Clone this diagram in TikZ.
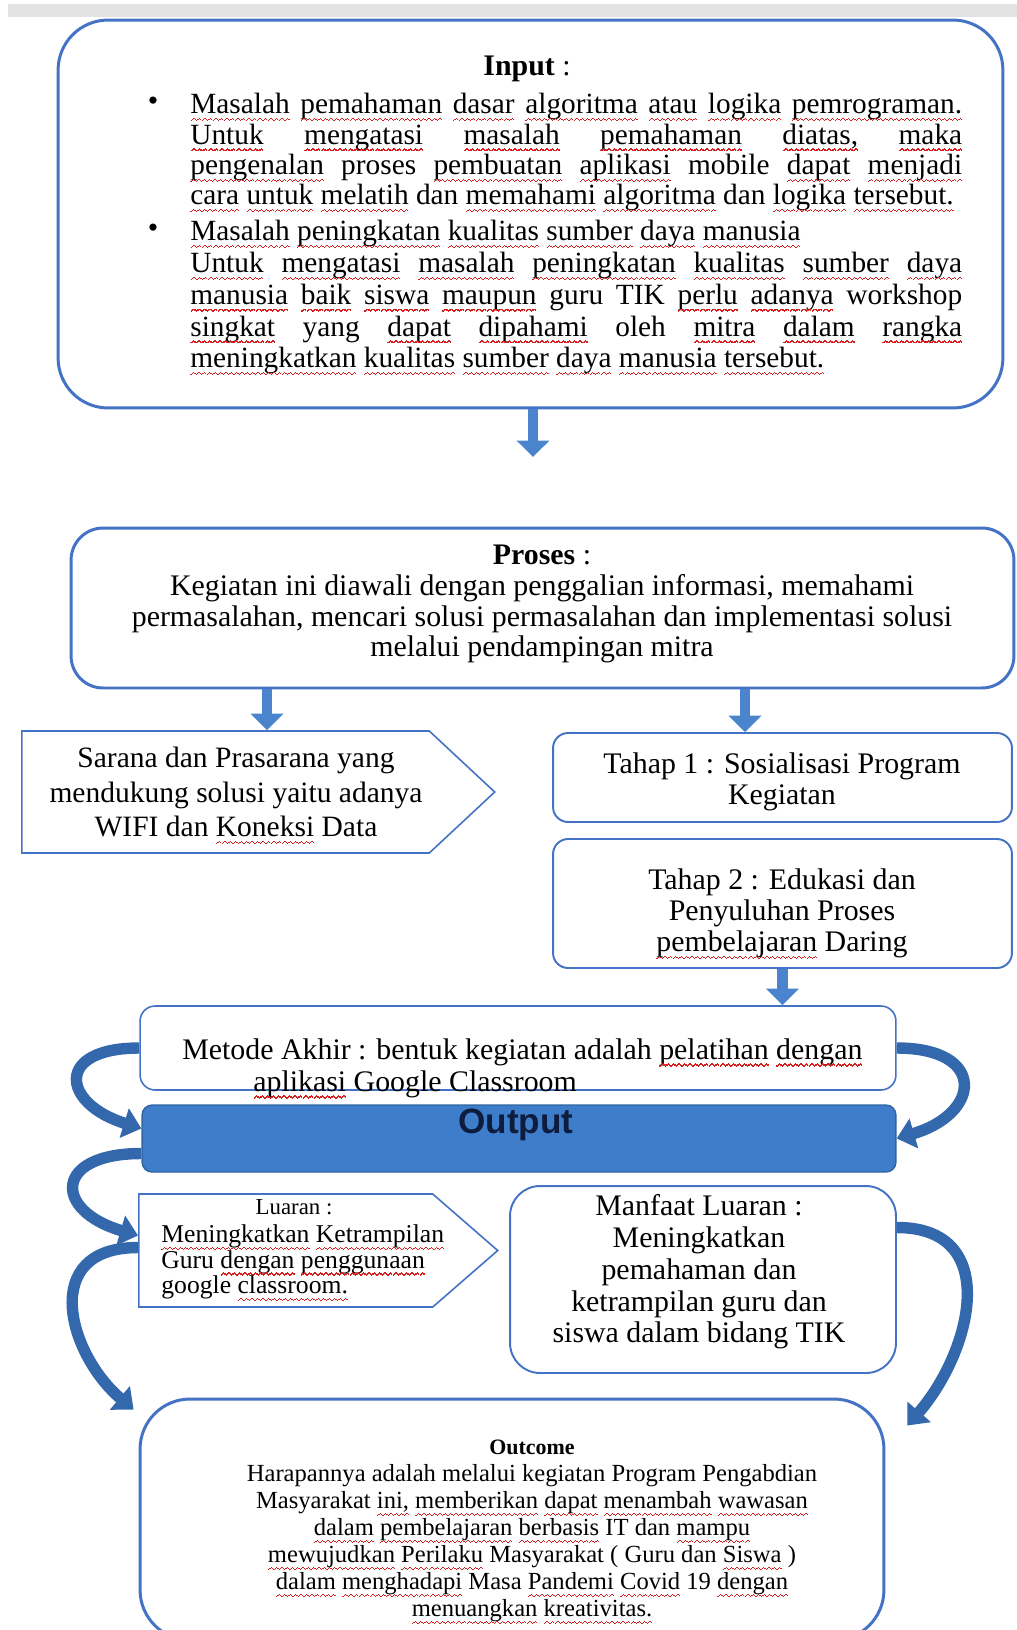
\documentclass[tikz,border=0pt]{standalone}
\usepackage{fontspec}
\setmainfont{Liberation Serif}
\newfontfamily\sansjudul{Liberation Sans}
\usepackage{xcolor}
\usepackage{tikz}
\usetikzlibrary{positioning,calc,shapes.symbols,arrows.meta}
\definecolor{garisBiru}{RGB}{68,114,196}
\definecolor{panahBiru}{RGB}{74,132,204}
\definecolor{panahGelap}{RGB}{52,104,172}
\definecolor{isiOutput}{RGB}{61,125,202}
\definecolor{teksOutput}{RGB}{14,28,62}
\definecolor{merahSalah}{RGB}{214,30,30}
% garis bergelombang merah (koreksi ejaan), per kata
\newsavebox\kotakKata
\newcommand\gelombang{\hbox{\rule[0pt]{0.75pt}{0.7pt}\rule[0.55pt]{0.75pt}{0.7pt}\rule[1.1pt]{0.75pt}{0.7pt}\rule[0.55pt]{0.75pt}{0.7pt}}}
\newcommand\salahkata[1]{%
  \sbox\kotakKata{#1}%
  \rlap{\usebox\kotakKata}%
  \raisebox{-4.2pt}[0pt][0pt]{\textcolor{merahSalah}{\hbox to \wd\kotakKata{\xleaders\gelombang\hfill}}}}
\makeatletter
\def\salah#1{\salah@i#1 \@nil}
\def\salah@i#1 #2\@nil{%
  \salahkata{#1}%
  \if\relax\detokenize{#2}\relax\else\space\salah@i#2\@nil\fi}
\makeatother

\begin{document}
\begin{tikzpicture}[
        x=0.02cm, y=-0.02cm,
        % --- STYLE KOTAK ---
        kotakbesar/.style={
            rectangle, draw=garisBiru, line width=1.7pt,
            rounded corners=1cm, fill=white
        },
        kotak/.style={
            rectangle, draw=garisBiru, line width=1.1pt
        },
        panahkotak/.style={
            signal, signal to=east, draw=garisBiru,
            line width=0.9pt, inner sep=0pt, anchor=west
        },
        teks/.style={inner sep=0pt, align=center, font=\fontsize{17}{17.8}\selectfont},
        % --- STYLE PANAH ---
        panahblok/.style={
            draw=panahBiru, line width=6pt,
            -{Triangle[width=0.64cm,length=0.33cm]}
        },
        panahlengkung/.style={
            draw=panahGelap, line width=6.5pt,
            -{Triangle[width=0.6cm,length=0.36cm]}
        }
    ]

        % --- LATAR ---
        \fill[white] (0,0) rectangle (1017,1630);
        \useasboundingbox (0,0) rectangle (1017,1630);
        \clip (0,0) rectangle (1017,1630);
        \fill[gray!22] (8,4) rectangle (1017,17);

        % --- INPUT ---
        \node[kotakbesar, minimum width=18.9cm, minimum height=7.76cm] (inputBox) at (530.5,214) {};
        \node[teks] (inputJudul) at (527,69) {\textbf{Input} :};
        \node[teks] (bulletSatu) at (153,104) {\textbullet};
        \node[teks] (bulletDua) at (153,231) {\textbullet};
        \node[teks, text width=15.44cm, align=justify, anchor=north west,
              font=\fontsize{16.7}{17.3}\selectfont] (poinSatu) at (190,93) {%
            \salah{Masalah pemahaman dasar algoritma atau logika pemrograman.}\linebreak
            \salah{Untuk mengatasi masalah pemahaman diatas, maka}\linebreak
            \salah{pengenalan} proses \salah{pembuatan aplikasi} mobile \salah{dapat menjadi}\linebreak
            \salah{cara untuk melatih} dan \salah{memahami algoritma} dan \salah{logika tersebut.}};
        \node[teks, text width=15.44cm, align=justify, anchor=north west,
              font=\fontsize{16.7}{18.1}\selectfont] (poinDua) at (190,220) {%
            \salah{Masalah peningkatan kualitas sumber daya manusia}\\
            \salah{Untuk mengatasi masalah peningkatan kualitas sumber daya}\linebreak
            \salah{manusia baik siswa maupun} guru TIK \salah{perlu adanya} workshop\linebreak
            \salah{singkat} yang \salah{dapat dipahami} oleh \salah{mitra dalam rangka}\linebreak
            \salah{meningkatkan kualitas sumber daya manusia tersebut.}};

        % --- PROSES ---
        \node[kotakbesar, rounded corners=0.64cm, minimum width=18.86cm, minimum height=3.2cm] (prosesBox) at (542.5,608) {};
        \node[teks, font=\fontsize{17}{17.6}\selectfont] (prosesTeks) at (542,604)
            {\textbf{Proses} :\\
             Kegiatan ini diawali dengan penggalian informasi, memahami\\
             permasalahan, mencari solusi permasalahan dan implementasi solusi\\
             melalui pendampingan mitra};

        % --- SARANA DAN TAHAP ---
        \node[panahkotak, minimum width=9.46cm, minimum height=2.44cm, signal pointer angle=86] (saranaBox) at (21,792) {};
        \node[teks, font=\fontsize{16.8}{19.8}\selectfont] (saranaTeks) at (236,792)
            {Sarana dan Prasarana yang\\mendukung solusi yaitu adanya\\WIFI dan \salah{Koneksi} Data};
        \node[kotak, rounded corners=0.3cm, minimum width=9.18cm, minimum height=1.78cm] (tahapSatu) at (782.5,777.5) {};
        \node[teks] (tahapSatuTeks) at (782,781.5) {Tahap 1 : Sosialisasi Program\\Kegiatan};
        \node[kotak, rounded corners=0.3cm, minimum width=9.18cm, minimum height=2.58cm] (tahapDua) at (782.5,903.5) {};
        \node[teks] (tahapDuaTeks) at (782,913.5) {Tahap 2 : Edukasi dan\\Penyuluhan Proses\\\salah{pembelajaran} Daring};

        % --- METODE AKHIR ---
        \node[kotak, rounded corners=0.3cm, line width=0.9pt, minimum width=15.12cm, minimum height=1.68cm] (metodeBox) at (518,1048) {};
        \node[teks, anchor=west, align=left, font=\fontsize{17}{18.2}\selectfont] (metodeTeks) at (182,1068)
            {Metode Akhir : bentuk kegiatan adalah \salah{pelatihan dengan}\\
             \hspace*{1.42cm}\salah{aplikasi} Google Classroom};

        % --- OUTPUT ---
        \node[rectangle, rounded corners=0.2cm, fill=isiOutput, draw=isiOutput!80!black, line width=0.8pt,
              minimum width=15.08cm, minimum height=1.34cm] (outputBar) at (519,1138.5) {};
        \node[teks, font=\sansjudul\bfseries\fontsize{20}{22}\selectfont, text=teksOutput] (outputTeks) at (516,1125) {Output};

        % --- LUARAN ---
        \node[panahkotak, minimum width=7.18cm, minimum height=2.26cm, signal pointer angle=82] (luaranBox) at (138,1250.5) {};
        \node[teks, font=\fontsize{13}{14}\selectfont] (luaranJudul) at (294,1207) {Luaran :};
        \node[teks, anchor=west, align=left, font=\fontsize{14.6}{14.5}\selectfont] (luaranTeks) at (161,1262)
            {\salah{Meningkatkan Ketrampilan}\\Guru \salah{dengan penggunaan}\\google \salah{classroom.}};
        \node[kotak, rounded corners=0.6cm, minimum width=7.72cm, minimum height=3.74cm] (manfaatBox) at (703,1279.5) {};
        \node[teks, font=\fontsize{17}{18.1}\selectfont] (manfaatTeks) at (699,1272)
            {Manfaat Luaran :\\Meningkatkan\\pemahaman dan\\ketrampilan guru dan\\siswa dalam bidang TIK};

        % --- OUTCOME ---
        \node[kotakbesar, minimum width=14.88cm, minimum height=4.82cm] (outcomeBox) at (512,1519.5) {};
        \node[teks, font=\fontsize{14}{15.4}\selectfont] (outcomeTeks) at (532,1531)
            {{\fontsize{12.5}{15.4}\selectfont\textbf{Outcome}}\\
             Harapannya adalah melalui kegiatan Program Pengabdian\\
             Masyarakat \salah{ini,} \salah{memberikan dapat menambah wawasan}\\
             \salah{dalam pembelajaran berbasis} IT dan \salah{mampu}\\
             \salah{mewujudkan Perilaku} Masyarakat ( Guru dan \salah{Siswa} )\\
             \salah{dalam menghadapi} Masa \salah{Pandemi Covid} 19 \salah{dengan}\\
             \salah{menuangkan kreativitas.}};

        % --- PANAH LURUS ---
        \coordinate (ujungInput) at (533,457);
        \coordinate (jalurKiri) at (267,0);
        \coordinate (jalurKanan) at (745,0);
        \draw[panahblok] (inputBox.south -| ujungInput) -- (ujungInput);
        \draw[panahblok] (prosesBox.south -| jalurKiri) -- (saranaBox.north -| jalurKiri);
        \draw[panahblok] (prosesBox.south -| jalurKanan) -- (tahapSatu.north -| jalurKanan);
        \draw[panahblok] (tahapDua.south) -- (metodeBox.north -| tahapDua.south);

        % --- PANAH LENGKUNG ---
        \draw[panahlengkung] (metodeBox.west) .. controls +(-85,0) and +(-80,-25) .. ($(outputBar.west)+(0,-10)$);
        \draw[panahlengkung] (metodeBox.east) .. controls +(90,0) and +(85,-25) .. (outputBar.east);
        \draw[panahlengkung] ($(outputBar.west)+(0,15)$) .. controls +(-88,0) and +(-85,-25) .. ($(luaranBox.west)+(0,-15)$);
        \draw[panahlengkung] ($(luaranBox.west)+(0,-3)$) .. controls +(-100,0) and +(-65,-55) .. ($(outcomeBox.north west)+(-5,12)$);
        \draw[panahlengkung] ($(manfaatBox.east)+(0,-52)$) .. controls +(105,0) and +(65,-75) .. ($(outcomeBox.north east)+(22,28)$);

    \end{tikzpicture}
\end{document}
